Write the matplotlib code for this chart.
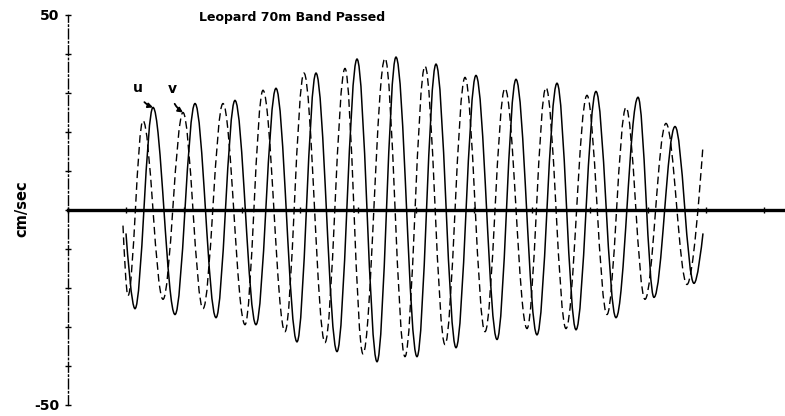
import numpy as np
import matplotlib
matplotlib.use("Agg")
import matplotlib.pyplot as plt
from matplotlib.path import Path
from matplotlib.patches import PathPatch

# ---- data (time in days, velocity in cm/sec) ----
u_time = [1.000, 1.155, 1.466, 1.845, 2.190, 2.552, 2.879, 3.241, 3.586, 3.948,
          4.276, 4.638, 4.983, 5.328, 5.655, 6.017, 6.345, 6.690, 7.034, 7.397,
          7.724, 8.086, 8.431, 8.759, 9.103, 9.448, 9.828, 10.103, 10.466, 10.793,
          10.948]
u_vel = [-6.0, -25.3, 26.3, -26.8, 27.3, -27.6, 28.1, -29.4, 31.2, -33.8,
         35.1, -36.3, 38.7, -38.9, 39.2, -37.6, 37.4, -35.3, 34.5, -33.2,
         33.5, -32.0, 32.5, -30.7, 30.4, -27.6, 28.9, -22.4, 21.4, -18.8,
         -6.0]

v_time = [0.948, 1.034, 1.293, 1.638, 1.983, 2.328, 2.672, 3.052, 3.362, 3.741,
          4.069, 4.431, 4.776, 5.086, 5.466, 5.810, 6.155, 6.500, 6.845, 7.190,
          7.534, 7.914, 8.241, 8.586, 8.948, 9.293, 9.621, 9.948, 10.310, 10.672,
          10.948]
v_vel = [-4.0, -22.0, 22.9, -22.9, 25.0, -25.3, 27.3, -29.4, 30.7, -31.2,
         35.1, -34.0, 36.3, -36.9, 38.9, -37.6, 36.9, -34.5, 34.0, -31.2,
         31.2, -30.4, 31.4, -30.4, 29.4, -26.8, 26.3, -22.9, 22.2, -19.1,
         16.5]

day_ticks = list(range(0, 13))
vel_ticks = list(range(-50, 51, 10))
vel_ticklabels = ["-50"] + [""] * 9 + ["50"]
title = "Leopard 70m Band Passed"
ylabel = "cm/sec"


def smooth_path(t, y):
    """Cubic Bezier path through the read extrema (horizontal tangents at extrema)."""
    t = np.asarray(t, float)
    y = np.asarray(y, float)
    n = len(t)
    verts = [(t[0], y[0])]
    codes = [Path.MOVETO]
    a = 0.364
    for i in range(n - 1):
        p0 = np.array([t[i], y[i]])
        p3 = np.array([t[i + 1], y[i + 1]])
        dt = p3[0] - p0[0]
        p1 = np.array([p0[0] + a * dt, p0[1]]) if i > 0 else None
        p2 = np.array([p3[0] - a * dt, p3[1]]) if i + 1 < n - 1 else None
        if p1 is None:
            p1 = p0 + 0.3 * (p2 - p0)
        if p2 is None:
            p2 = p3 + 0.3 * (p1 - p3)
        verts += [tuple(p1), tuple(p2), tuple(p3)]
        codes += [Path.CURVE4] * 3
    return Path(verts, codes)


plt.rcParams['font.family'] = ['DejaVu Sans']
fig = plt.figure(figsize=(7.85, 4.16), dpi=100)
ax = fig.add_axes([68 / 785, 11 / 416, 1 - 68 / 785, 390 / 416])

ax.add_patch(PathPatch(smooth_path(v_time, v_vel), fill=False, edgecolor='black',
                       linewidth=1.0, linestyle=(0, (5.5, 3)), zorder=2))
ax.add_patch(PathPatch(smooth_path(u_time, u_vel), fill=False, edgecolor='black',
                       linewidth=1.1, linestyle='-', zorder=3))

ax.set_xlim(0, 717 / 58)
ax.set_ylim(-50, 50)

for s in ('top', 'right'):
    ax.spines[s].set_visible(False)
ax.spines['bottom'].set_position(('data', 0))
ax.spines['bottom'].set_linewidth(2.4)
ax.spines['bottom'].set_zorder(5)
ax.spines['left'].set_linewidth(1.0)
ax.spines['left'].set_linestyle((0, (7, 2, 1, 2)))

ax.set_xticks(day_ticks)
ax.tick_params(axis='x', direction='inout', length=5, width=1.0, labelbottom=False)
ax.set_yticks(vel_ticks)
ax.set_yticklabels(vel_ticklabels, fontweight='bold', fontsize=10)
ax.tick_params(axis='y', direction='inout', length=5, width=1.0, pad=4)

fig.text(292 / 785, 1 - 18 / 416, title, ha='center', va='center',
         fontsize=9, fontweight='bold')
fig.text(22 / 785, 1 - 209 / 416, ylabel, ha='center', va='center',
         rotation=90, fontsize=10.5, fontweight='bold')

ax.annotate('u', xy=(u_time[2], u_vel[2]), xytext=(-11, 14), textcoords='offset points',
            ha='center', va='center', fontsize=10, fontweight='bold',
            arrowprops=dict(arrowstyle='-|>', lw=1.3, color='black',
                            shrinkA=4, shrinkB=0, mutation_scale=7,
                            connectionstyle='arc3,rad=0.3'))
ax.annotate('v', xy=(v_time[4], v_vel[4]), xytext=(-8, 17), textcoords='offset points',
            ha='center', va='center', fontsize=10, fontweight='bold',
            arrowprops=dict(arrowstyle='-|>', lw=1.3, color='black',
                            shrinkA=4, shrinkB=0, mutation_scale=7,
                            connectionstyle='arc3,rad=0.3'))

fig.savefig('out.png', dpi=100)
